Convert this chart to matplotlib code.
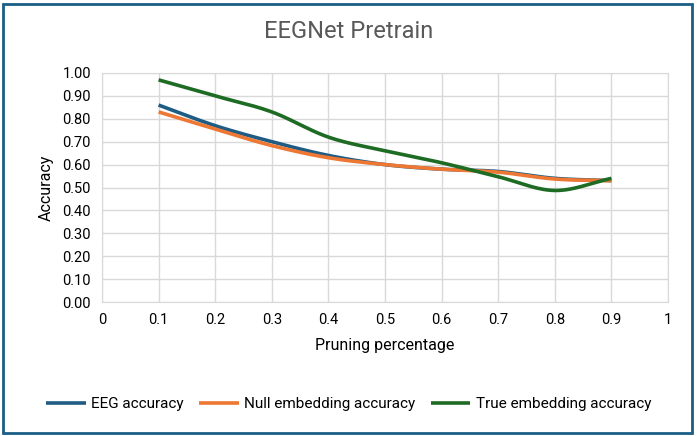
import matplotlib.pyplot as plt
import numpy as np
from matplotlib.patches import Rectangle

plt.rcParams['font.family'] = ['Roboto', 'DejaVu Sans']

pruning = [0.1, 0.2, 0.3, 0.4, 0.5, 0.6, 0.7, 0.8, 0.9]
eeg_acc = [0.86, 0.77, 0.70, 0.64, 0.60, 0.58, 0.57, 0.54, 0.53]
null_acc = [0.83, 0.755, 0.683, 0.63, 0.60, 0.58, 0.567, 0.537, 0.53]
true_acc = [0.97, 0.90, 0.83, 0.72, 0.66, 0.608, 0.547, 0.487, 0.54]

series = [
    ("EEG accuracy", eeg_acc, "#1f5c84"),
    ("Null embedding accuracy", null_acc, "#ee7733"),
    ("True embedding accuracy", true_acc, "#1e6b24"),
]


def smooth(x, y, n=30):
    # catmull-rom style curve like excel's smoothed lines
    x = np.asarray(x, float)
    y = np.asarray(y, float)
    px = np.concatenate([[2 * x[0] - x[1]], x, [2 * x[-1] - x[-2]]])
    py = np.concatenate([[2 * y[0] - y[1]], y, [2 * y[-1] - y[-2]]])
    xs, ys = [], []
    t = np.linspace(0, 1, n)
    for i in range(1, len(px) - 2):
        p0, p1, p2, p3 = (np.array([px[j], py[j]]) for j in range(i - 1, i + 3))
        c1 = p1 + (p2 - p0) / 6
        c2 = p2 - (p3 - p1) / 6
        pts = ((1 - t) ** 3)[:, None] * p1 + (3 * (1 - t) ** 2 * t)[:, None] * c1 \
            + (3 * (1 - t) * t ** 2)[:, None] * c2 + (t ** 3)[:, None] * p2
        xs.extend(pts[:, 0])
        ys.extend(pts[:, 1])
    return xs, ys


fig = plt.figure(figsize=(6.97, 4.36), dpi=100)
ax = fig.add_axes([102 / 697, 1 - 302 / 436, 566 / 697, 229 / 436])

for label, vals, color in series:
    sx, sy = smooth(pruning, vals)
    ax.plot(sx, sy, color=color, lw=2.6, label=label, solid_capstyle='butt')

ax.set_xlim(0, 1)
ax.set_ylim(0, 1)
ax.set_xticks(np.arange(0, 1.01, 0.1))
ax.set_xticklabels(["0", "0.1", "0.2", "0.3", "0.4", "0.5", "0.6", "0.7", "0.8", "0.9", "1"])
ax.set_yticks(np.arange(0, 1.01, 0.1))
ax.set_yticklabels([f"{v:.2f}" for v in np.arange(0, 1.01, 0.1)])
ax.grid(True, color="#d9d9d9", lw=1)
ax.set_axisbelow(True)
for s in ax.spines.values():
    s.set_color("#d9d9d9")
ax.tick_params(length=0, labelsize=10.5, colors="#000000", pad=8)

ax.set_xlabel("Pruning percentage", fontsize=11.5, labelpad=8)
ax.set_ylabel("Accuracy", fontsize=11.5, labelpad=6)
fig.text(0.5, 1 - 32 / 436, "EEGNet Pretrain", ha="center", va="center",
         fontsize=17, color="#595959")

fig.legend(loc="center", bbox_to_anchor=(0.5, 1 - 404 / 436), ncol=3, frameon=False,
           fontsize=11, handlelength=2.6, columnspacing=1.0, handletextpad=0.35)

fig.patches.append(Rectangle((3 / 697, 3 / 436), 689 / 697, 429 / 436,
                             transform=fig.transFigure, fill=False,
                             edgecolor="#1b5e85", lw=2))

fig.savefig("out.png", dpi=100)
